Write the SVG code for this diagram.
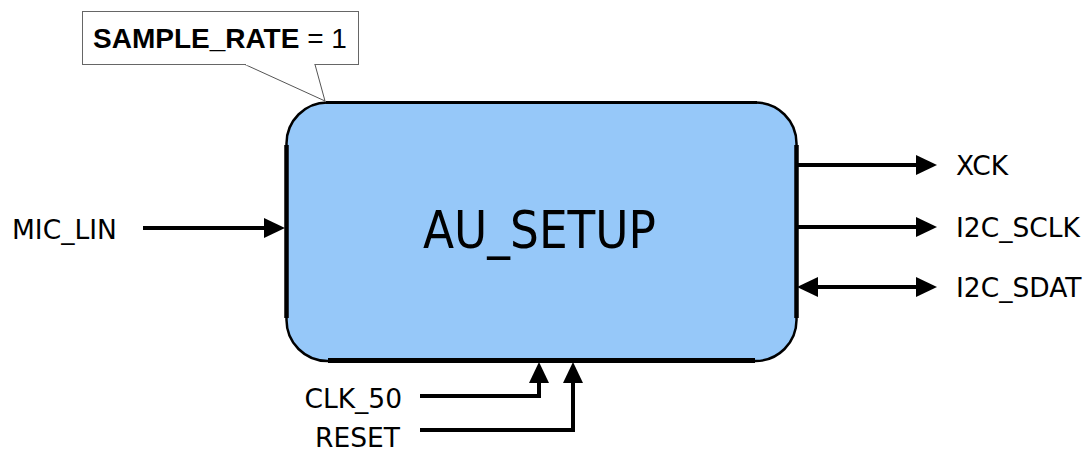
<svg xmlns="http://www.w3.org/2000/svg" width="1089" height="451" viewBox="0 0 1089 451">
  <style>
    .lbl { font-family: "DejaVu Sans", "Liberation Sans", sans-serif; font-size: 26.5px; fill: #000; }
    .title { font-family: "DejaVu Sans", "Liberation Sans", sans-serif; font-size: 51px; fill: #000; }
    .param { font-family: "Liberation Sans", Arial, sans-serif; font-size: 28px; fill: #000; }
    .wire { fill: none; stroke: #000; stroke-width: 4; stroke-linejoin: miter; }
    .edge { fill: none; stroke: #000; }
  </style>
  <defs>
    <marker id="arrow" markerUnits="userSpaceOnUse" markerWidth="21" markerHeight="21" viewBox="0 0 21 21" refX="1" refY="10.5" orient="auto-start-reverse">
      <path d="M0,0.5 L21,10.5 L0,20.5 z" fill="#000"/>
    </marker>
  </defs>

  <!-- parameter callout -->
  <g id="param-callout">
    <rect x="82.5" y="11.5" width="276" height="53" fill="#fff" stroke="#666" stroke-width="1"/>
    <polyline points="245,64.5 325,101 315,64.5" fill="#fff" stroke="#555" stroke-width="1"/>
    <line x1="246" y1="64.5" x2="314" y2="64.5" stroke="#fff" stroke-width="1.5"/>
    <text class="param" x="93" y="48"><tspan font-weight="bold">SAMPLE_RATE</tspan> = 1</text>
  </g>

  <!-- main block -->
  <g id="au-setup">
    <rect x="286.5" y="102.5" width="510" height="258.5" rx="41" ry="41" fill="#96C8F9" stroke="#000" stroke-width="2.5"/>
    <line class="edge" x1="326" y1="102.5" x2="757" y2="102.5" stroke-width="3"/>
    <line class="edge" x1="286.5" y1="145" x2="286.5" y2="318" stroke-width="4.5"/>
    <line class="edge" x1="796.5" y1="145" x2="796.5" y2="318" stroke-width="4.5"/>
    <line class="edge" x1="328" y1="360.5" x2="755" y2="360.5" stroke-width="5"/>
    <text class="title" x="539.5" y="247.5" text-anchor="middle" textLength="233" lengthAdjust="spacingAndGlyphs">AU_SETUP</text>
  </g>

  <!-- port labels -->
  <g id="port-mic-lin"><text class="lbl" x="12" y="239">MIC_LIN</text></g>
  <g id="port-xck"><text class="lbl" x="956" y="175">XCK</text></g>
  <g id="port-i2c-sclk"><text class="lbl" x="956" y="237">I2C_SCLK</text></g>
  <g id="port-i2c-sdat"><text class="lbl" x="956" y="297">I2C_SDAT</text></g>
  <g id="port-clk-50"><text class="lbl" x="402" y="408" text-anchor="end">CLK_50</text></g>
  <g id="port-reset"><text class="lbl" x="400" y="447" text-anchor="end">RESET</text></g>

  <!-- connectors -->
  <g id="connectors">
    <path class="wire" d="M143,228 H265" marker-end="url(#arrow)"/>
    <path class="wire" d="M797,165 H917" marker-end="url(#arrow)"/>
    <path class="wire" d="M797,227 H917" marker-end="url(#arrow)"/>
    <path class="wire" d="M817,287 H917" marker-start="url(#arrow)" marker-end="url(#arrow)"/>
    <path class="wire" d="M420,396 H539 V382" marker-end="url(#arrow)"/>
    <path class="wire" d="M420,430 H573 V382" marker-end="url(#arrow)"/>
  </g>
</svg>
